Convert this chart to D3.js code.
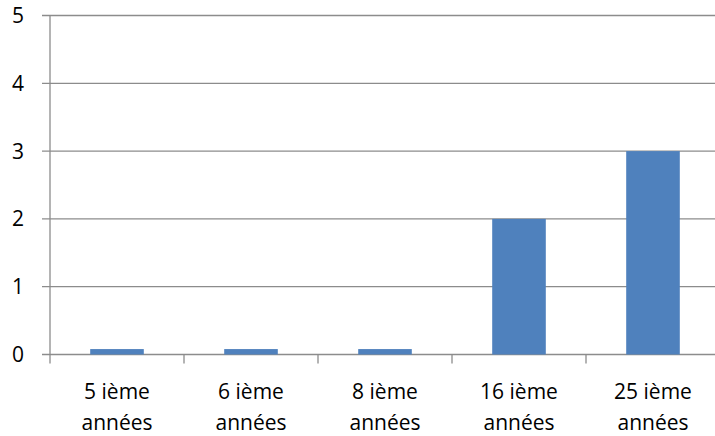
<!DOCTYPE html>
<html>
<head>
<meta charset="utf-8">
<script src="https://cdn.jsdelivr.net/npm/d3@7"></script>
<style>
  body { margin: 0; background: #fff; }
  svg text { font-family: "Open Sans", "Liberation Sans", sans-serif; fill: #000; }
</style>
</head>
<body>
<script>
// data
const categories = ["5 ième années", "6 ième années", "8 ième années", "16 ième années", "25 ième années"];
const values = [0.08, 0.08, 0.08, 2, 3];
const yTicks = [0, 1, 2, 3, 4, 5];

const width = 715, height = 436;
const margin = {top: 15.5, left: 50, bottom: 82};
const plotRight = 720;

const svg = d3.select("body").append("svg")
  .attr("width", width)
  .attr("height", height);

const x = d3.scaleBand()
  .domain(categories)
  .range([margin.left, plotRight])
  .paddingInner(0.6)
  .paddingOuter(0.3);

const y = d3.scaleLinear()
  .domain([0, 5])
  .range([height - margin.bottom + 0.5, margin.top]);

// gridlines
svg.append("g")
  .selectAll("line")
  .data(yTicks)
  .join("line")
  .attr("x1", margin.left - 8)
  .attr("x2", plotRight)
  .attr("y1", d => y(d))
  .attr("y2", d => y(d))
  .attr("stroke", "#8c8c8c")
  .attr("stroke-width", 1.3);

// y labels
svg.append("g")
  .selectAll("text")
  .data(yTicks)
  .join("text")
  .attr("x", 24)
  .attr("y", d => y(d))
  .attr("dy", "0.36em")
  .attr("text-anchor", "end")
  .attr("font-size", 21)
  .text(d => d);

// bars
svg.append("g")
  .selectAll("rect")
  .data(values)
  .join("rect")
  .attr("x", (d, i) => x(categories[i]))
  .attr("width", x.bandwidth())
  .attr("y", d => y(d))
  .attr("height", d => y(0) - y(d))
  .attr("fill", "#4f81bd");

// y axis line
svg.append("line")
  .attr("x1", margin.left).attr("x2", margin.left)
  .attr("y1", y(5)).attr("y2", y(0))
  .attr("stroke", "#8c8c8c")
  .attr("stroke-width", 1.3);

// x ticks at category boundaries
const step = x.step();
const bounds = d3.range(categories.length + 1).map(i => margin.left + i * step);
svg.append("g")
  .selectAll("line")
  .data(bounds)
  .join("line")
  .attr("x1", d => d).attr("x2", d => d)
  .attr("y1", y(0)).attr("y2", y(0) + 9)
  .attr("stroke", "#8c8c8c")
  .attr("stroke-width", 1.3);

// x labels, two lines
const lbl = svg.append("g")
  .selectAll("text")
  .data(categories)
  .join("text")
  .attr("x", d => x(d) + x.bandwidth() / 2)
  .attr("y", 399)
  .attr("text-anchor", "middle")
  .attr("font-size", 21);

lbl.each(function(d) {
  const parts = d.split(" ");
  const t = d3.select(this);
  t.append("tspan").attr("x", t.attr("x")).text(parts[0] + " " + parts[1]);
  t.append("tspan").attr("x", t.attr("x")).attr("dy", 31).text(parts[2]);
});
</script>
</body>
</html>
